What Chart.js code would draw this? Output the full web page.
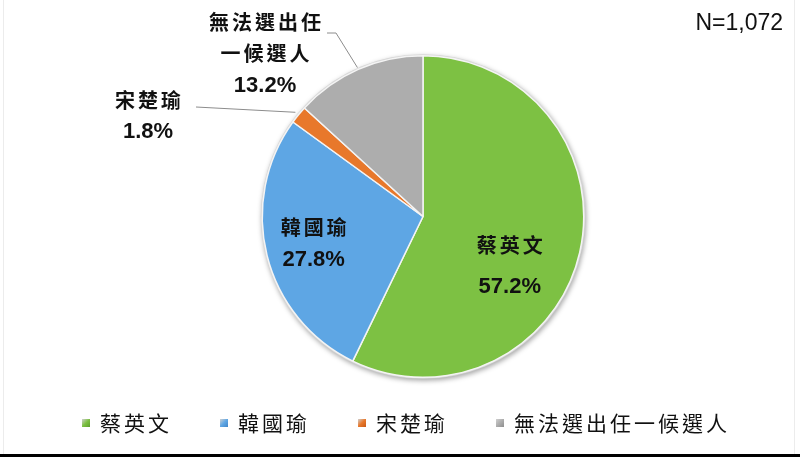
<!DOCTYPE html>
<html>
<head>
<meta charset="utf-8">
<script src="https://cdn.jsdelivr.net/npm/chart.js@4.4.1/dist/chart.umd.min.js"></script>
<style>
html,body{margin:0;padding:0;background:#fff;}
#wrap{width:800px;height:457px;position:relative;}
</style>
</head>
<body>
<div id="wrap"><canvas id="c" width="800" height="457"></canvas></div>
<script>
const categories = ['蔡英文', '韓國瑜', '宋楚瑜', '無法選出任一候選人'];
const values = [57.2, 27.8, 1.8, 13.2];
const labelLines = [['蔡英文'], ['韓國瑜'], ['宋楚瑜'], ['無法選出任', '一候選人']];
const sampleNote = 'N=1,072';
const baseColors = ['#7DC143', '#5EA6E4', '#E8782B', '#ADADAD'];
const rimColors = ['#5E9F2C', '#4286C8', '#C85A18', '#8E8E8E'];

function sliceFill(ctx) {
  const chart = ctx.chart;
  const i = ctx.dataIndex;
  const meta = chart.getDatasetMeta(0);
  const arc = meta.data[i];
  if (!arc || !arc.outerRadius) return baseColors[i];
  const g = chart.ctx.createRadialGradient(arc.x, arc.y, 0, arc.x, arc.y, arc.outerRadius);
  g.addColorStop(0, baseColors[i]);
  g.addColorStop(0.85, baseColors[i]);
  g.addColorStop(1, rimColors[i]);
  return g;
}

const decor = {
  id: 'decor',
  beforeDatasetsDraw(chart) {
    const c = chart.ctx;
    const arc = chart.getDatasetMeta(0).data[0];
    c.save();
    c.beginPath();
    c.arc(arc.x, arc.y, arc.outerRadius + 1.5, 0, Math.PI * 2);
    c.shadowColor = 'rgba(0,0,0,0.35)';
    c.shadowBlur = 5;
    c.shadowOffsetX = 1;
    c.shadowOffsetY = 2;
    c.fillStyle = '#d8d8d8';
    c.fill();
    c.restore();
  },
  afterDraw(chart) {
    const c = chart.ctx;
    const meta = chart.getDatasetMeta(0);
    const a0 = meta.data[0];
    const cx = a0.x, cy = a0.y, R = a0.outerRadius;
    c.save();
    // frame lines
    c.fillStyle = '#000';
    c.fillRect(0, 454, 800, 3);
    c.fillStyle = '#ececec';
    c.fillRect(3, 0, 1, 454);
    c.fillRect(794, 0, 1, 454);

    // N note
    c.fillStyle = '#111';
    c.font = '23px "Liberation Sans", Arial, sans-serif';
    c.textAlign = 'right';
    c.textBaseline = 'middle';
    c.fillText(sampleNote, 783, 24);

    function drawLabel(lines, pct, x, y, gap) {
      c.textAlign = 'center';
      c.textBaseline = 'middle';
      c.fillStyle = '#111';
      c.font = 'bold 20px "Noto Sans CJK TC", "Noto Sans CJK SC", sans-serif';
      c.letterSpacing = '3px';
      lines.forEach((t, k) => c.fillText(t, x + 1.5, y + k * gap));
      c.letterSpacing = '0px';
      c.font = 'bold 22px "Liberation Sans", Arial, sans-serif';
      c.fillText(pct, x, y + lines.length * gap + 2);
    }
    function pt(angDeg, r) {
      const a = angDeg * Math.PI / 180;
      return [cx + r * Math.sin(a), cy - r * Math.cos(a)];
    }
    const total = values.reduce((s, v) => s + v, 0);
    const mids = [];
    let acc = 0;
    values.forEach(v => { mids.push((acc + v / 2) / total * 360); acc += v; });

    // leader lines
    c.strokeStyle = '#8c8c8c';
    c.lineWidth = 1;
    let e = pt(mids[3], R + 2);
    c.beginPath(); c.moveTo(327, 33); c.lineTo(336, 33); c.lineTo(e[0], e[1]); c.stroke();
    e = pt(mids[2], R + 4);
    c.beginPath(); c.moveTo(196, 107); c.lineTo(e[0], e[1]); c.stroke();

    drawLabel(labelLines[0], values[0].toFixed(1) + '%', cx + 0.54 * R, cy + 0.18 * R, 40);
    drawLabel(labelLines[1], values[1].toFixed(1) + '%', cx - 0.68 * R, cy + 0.07 * R, 30);
    drawLabel(labelLines[2], values[2].toFixed(1) + '%', 148, 100, 30);
    drawLabel(labelLines[3], values[3].toFixed(1) + '%', 265, 22, 31);

    // legend
    c.font = '21px "Noto Sans CJK TC", "Noto Sans CJK SC", serif';
    c.letterSpacing = '3px';
    c.textAlign = 'left';
    c.textBaseline = 'middle';
    const ly = 423;
    let lx = 82;
    categories.forEach((cat, i) => {
      const g = c.createLinearGradient(lx, ly - 4, lx + 8, ly + 4);
      g.addColorStop(0, '#d0d0d0');
      g.addColorStop(0.5, baseColors[i]);
      g.addColorStop(1, rimColors[i]);
      c.fillStyle = g;
      c.fillRect(lx, ly - 4, 8, 8);
      c.fillStyle = '#111';
      c.fillText(cat, lx + 18, ly);
      const w = c.measureText(cat).width;
      lx += 18 + w + 48;
    });
    c.restore();
  }
};

new Chart(document.getElementById('c'), {
  type: 'pie',
  data: {
    labels: categories,
    datasets: [{
      data: values,
      backgroundColor: sliceFill,
      borderColor: '#f4f4f4',
      borderWidth: 1.5
    }]
  },
  options: {
    responsive: false,
    animation: false,
    rotation: 0,
    layout: { padding: { left: 46, top: 55, right: 0, bottom: 79 } },
    plugins: { legend: { display: false }, tooltip: { enabled: false } }
  },
  plugins: [decor]
});
</script>
</body>
</html>
